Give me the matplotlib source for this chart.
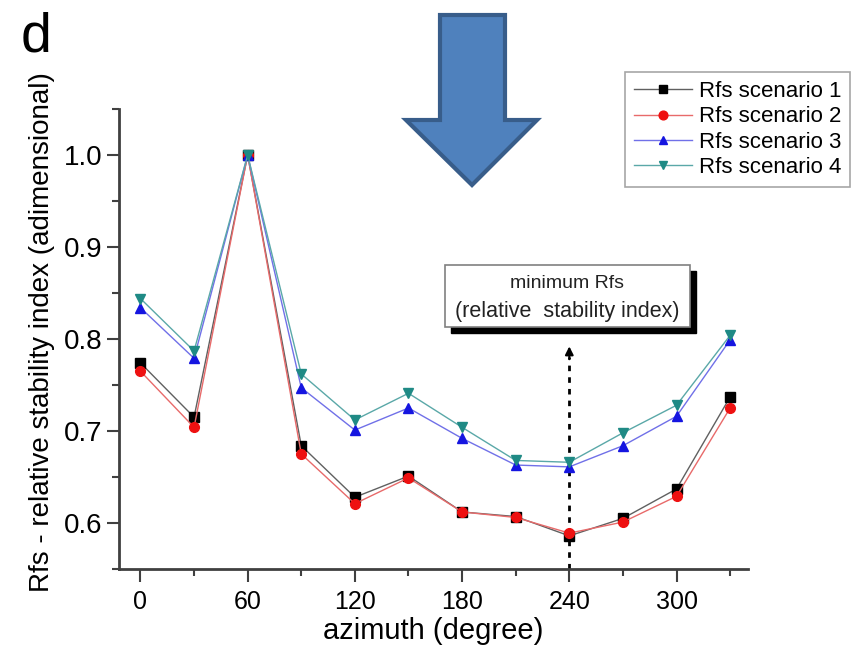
import matplotlib
matplotlib.use("Agg")
import matplotlib.pyplot as plt
from matplotlib.patches import Polygon, Rectangle
from matplotlib.ticker import MultipleLocator
import numpy as np

plt.rcParams['font.family'] = ['Liberation Sans', 'DejaVu Sans']

# azimuth (degree) and relative stability index for the four scenarios
azimuth = [0, 30, 60, 90, 120, 150, 180, 210, 240, 270, 300, 330]
rfs_1 = [0.774, 0.715, 1.0, 0.684, 0.628, 0.651, 0.612, 0.607, 0.586, 0.605, 0.637, 0.737]
rfs_2 = [0.765, 0.704, 1.0, 0.675, 0.621, 0.649, 0.612, 0.606, 0.589, 0.601, 0.629, 0.725]
rfs_3 = [0.834, 0.779, 1.0, 0.747, 0.701, 0.725, 0.692, 0.663, 0.661, 0.684, 0.716, 0.799]
rfs_4 = [0.844, 0.787, 1.0, 0.762, 0.712, 0.741, 0.704, 0.668, 0.666, 0.698, 0.728, 0.804]
labels = ['Rfs scenario 1', 'Rfs scenario 2', 'Rfs scenario 3', 'Rfs scenario 4']
min_azimuth = 240
arrow_top = 0.792

W, H = 857, 653
fig = plt.figure(figsize=(W / 100, H / 100), dpi=100)
ax = fig.add_axes([119 / W, 1 - 569 / H, (748 - 119) / W, (569 - 109) / H])

styles = [
    dict(color='#606060', marker='s', mfc='black', mec='black'),
    dict(color='#e86a6a', marker='o', mfc='#ee1111', mec='#ee1111'),
    dict(color='#7070e8', marker='^', mfc='#1515e0', mec='#1515e0'),
    dict(color='#5aa8a8', marker='v', mfc='#1f8a85', mec='#1f8a85'),
]
for ys, lab, st in zip([rfs_1, rfs_2, rfs_3, rfs_4], labels, styles):
    ax.plot(azimuth, ys, lw=1.0, ms=7, label=lab, **st)

ax.set_xlim(-12, 340)
ax.set_ylim(0.55, 1.05)
ax.xaxis.set_major_locator(MultipleLocator(60))
ax.xaxis.set_minor_locator(MultipleLocator(30))
ax.yaxis.set_major_locator(MultipleLocator(0.1))
ax.yaxis.set_minor_locator(MultipleLocator(0.05))
ax.yaxis.set_major_formatter(matplotlib.ticker.FormatStrFormatter('%.1f'))

for s in ['top', 'right']:
    ax.spines[s].set_visible(False)
for s in ['left', 'bottom']:
    ax.spines[s].set_linewidth(2)
    ax.spines[s].set_color('#404040')
ax.tick_params(which='major', length=9, width=1.5, color='#404040')
ax.tick_params(which='minor', length=5, width=1.5, color='#404040')
ax.tick_params(axis='y', labelsize=20, pad=3)
ax.tick_params(axis='x', labelsize=18, pad=6)

ax.set_xlabel('azimuth (degree)', fontsize=21, labelpad=2)
ax.set_ylabel('Rfs - relative stability index (adimensional)', fontsize=20, labelpad=4)
ax.yaxis.set_label_coords(-0.102, 0.515)

# dotted pointer to the minimum
ax.plot([min_azimuth, min_azimuth], [0.55, arrow_top - 0.012], ls=(0, (2, 2.2)),
        lw=2, color='black', zorder=1)
ax.annotate('', xy=(min_azimuth, arrow_top), xytext=(min_azimuth, arrow_top - 0.014),
            arrowprops=dict(arrowstyle='-|>', color='black', lw=1.5,
                            mutation_scale=12, shrinkA=0, shrinkB=0))

# label box with drop shadow
bx0, bx1 = 445 / W, 690 / W
by0, by1 = 1 - 327 / H, 1 - 265 / H
fig.patches.append(Rectangle((bx0 + 6 / W, by0 - 6 / H), bx1 - bx0, by1 - by0,
                             transform=fig.transFigure, facecolor='black',
                             edgecolor='black', zorder=5))
fig.patches.append(Rectangle((bx0, by0), bx1 - bx0, by1 - by0,
                             transform=fig.transFigure, facecolor='white',
                             edgecolor='#808080', lw=1.2, zorder=6))
fig.text((bx0 + bx1) / 2, 1 - 284 / H, 'minimum Rfs', fontsize=14,
         ha='center', va='center', zorder=7, color='#222222')
fig.text((bx0 + bx1) / 2, 1 - 311 / H, '(relative  stability index)', fontsize=15.5,
         ha='center', va='center', zorder=7, color='#222222')

# big block arrow
pts = [(440, 15), (505, 15), (505, 120), (537, 120), (472, 185), (406, 120), (440, 120)]
fig.patches.append(Polygon([(x / W, 1 - y / H) for x, y in pts], closed=True,
                           transform=fig.transFigure, facecolor='#4f81bd',
                           edgecolor='#385d8a', lw=3, zorder=8))

fig.text(36 / W, 1 - 37 / H, 'd', fontsize=40, ha='center', va='center')

leg = ax.legend(loc='upper right', bbox_to_anchor=(850 / W, 1 - 72 / H),
                bbox_transform=fig.transFigure, fontsize=16, frameon=True,
                fancybox=False, edgecolor='#909090', borderaxespad=0,
                handlelength=2.6, handletextpad=0.3, labelspacing=0.2,
                borderpad=0.4, markerscale=0.9)
leg.get_frame().set_linewidth(1.2)

fig.savefig('out.png', dpi=100)
